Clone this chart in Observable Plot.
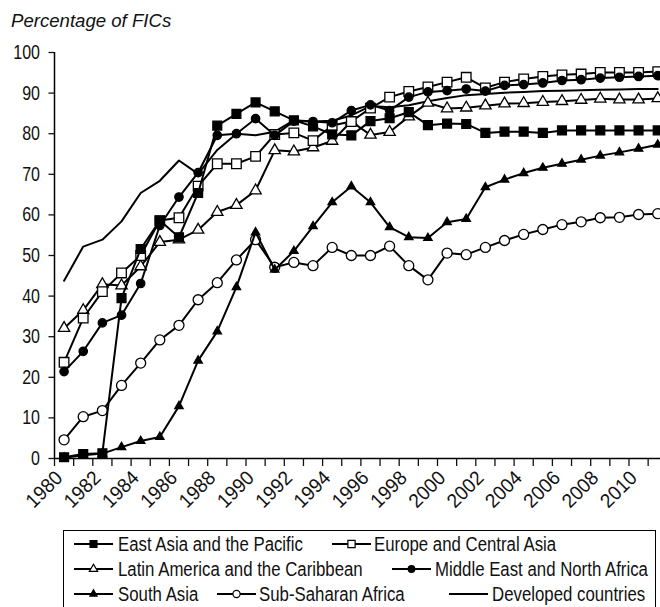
<!DOCTYPE html>
<html><head><meta charset="utf-8">
<script src="https://cdn.jsdelivr.net/npm/d3@7"></script>
<script src="https://cdn.jsdelivr.net/npm/@observablehq/plot@0.6"></script>
<style>
body{margin:0;background:#fff;font-family:"Liberation Sans",Arial,sans-serif;}
#wrap{position:relative;width:660px;height:607px;overflow:hidden;background:#fff;}
#chart{position:absolute;left:0;top:0;}
#title{position:absolute;left:11px;top:12px;font-style:italic;font-size:18.6px;line-height:1;color:#111;white-space:nowrap;}
#legendbox{position:absolute;left:63px;top:530px;width:593px;height:100px;border:1.5px solid #000;box-sizing:border-box;}
.sym{position:absolute;}
.ltext{position:absolute;font-size:20px;line-height:22px;height:22px;white-space:nowrap;color:#111;transform:scaleX(0.84);transform-origin:0 50%;}
</style></head><body>
<div id="wrap"><div id="chart"></div><div id="title">Percentage of FICs</div><div id="legendbox"></div><div id="legend"></div></div>
<script>
const years = d3.range(1980, 2012);
const seriesNames = ["East Asia and the Pacific","Europe and Central Asia","Latin America and the Caribbean","Middle East and North Africa","South Asia","Sub-Saharan Africa","Developed countries"];
const eastAsia = [0.3,1.1,1.3,39.5,51.6,58.6,54.5,65.4,82.0,84.9, 87.7,85.5,83.3,81.8,79.8,79.6,83.1,83.8,85.3,82.1, 82.5,82.4,80.2,80.5,80.5,80.2,80.8,80.8,80.8,80.8, 80.8,80.8];
const europe = [23.7,34.6,41.1,45.7,50.0,58.6,59.3,67.1,72.6,72.6, 74.4,79.8,80.2,78.3,82.0,83.0,86.3,89.0,90.4,91.5, 92.7,93.9,91.3,92.7,93.5,94.1,94.5,94.7,95.1,95.1, 95.1,95.3];
const latinAmerica = [32.1,36.5,42.9,42.6,47.3,53.3,53.9,56.3,60.7,62.4, 66.0,75.9,75.6,76.6,78.2,83.0,79.7,80.4,84.2,87.6, 86.2,86.4,86.9,87.4,87.5,87.8,88.0,88.3,88.6,88.4, 88.4,88.7];
const middleEast = [21.4,26.4,33.4,35.3,43.1,57.4,64.4,70.4,79.6,80.0, 83.7,79.6,83.1,83.0,82.7,85.7,87.1,85.7,89.0,90.3, 90.6,91.0,90.5,91.9,92.1,92.5,93.1,93.3,93.7,93.9, 94.1,94.3];
const southAsia = [0.2,0.8,1.2,2.8,4.3,5.3,12.9,24.1,31.3,42.2, 55.7,46.5,51.1,57.2,63.1,67.0,63.1,57.0,54.5,54.3, 58.2,59.0,66.8,68.7,70.3,71.6,72.6,73.6,74.6,75.4, 76.3,77.3];
const subSaharan = [4.6,10.3,11.8,18.0,23.5,29.2,32.8,39.1,43.3,48.9, 53.9,47.1,48.3,47.5,52.0,50.0,50.0,52.3,47.5,44.0, 50.6,50.2,52.0,53.7,55.2,56.4,57.6,58.3,59.3,59.4, 60.1,60.3];
const developed = [43.8,52.2,53.9,58.4,65.4,68.4,73.4,70.1,76.0,80.0, 79.6,80.5,83.3,83.0,83.2,84.5,86.8,86.5,87.0,88.0, 88.8,89.5,89.8,90.1,90.3,90.5,90.6,90.7,90.8,90.9, 91.0,91.0];
const yTicks = d3.range(0, 101, 10);
const xLabelYears = d3.range(1980, 2011, 2);
const xTickBounds = d3.range(1979.5, 2012, 1);

const FONT = '"Liberation Sans",Arial,sans-serif';
const valuesList = [eastAsia, europe, latinAmerica, middleEast, southAsia, subSaharan, developed];
const markers = [
  {symbol:"square", fill:"black", r:5.0, lr:3.9},
  {symbol:"square", fill:"white", r:5.4, lr:4.1},
  {symbol:"triangle", fill:"white", r:4.2, lr:3.1},
  {symbol:"circle", fill:"black", r:4.2, lr:3.3},
  {symbol:"triangle", fill:"black", r:3.1, lr:2.7},
  {symbol:"circle", fill:"white", r:5.0, lr:3.6},
  null
];
const series = seriesNames.map((name, k) => ({name, values: valuesList[k], marker: markers[k]}));
const drawOrder = [6, 5, 4, 2, 1, 3, 0];

const marks = [
  Plot.ruleY([0], {stroke: "black", strokeWidth: 1.5}),
  Plot.ruleX([1979.5], {y1: 0, y2: 100, stroke: "black", strokeWidth: 1.5}),
  Plot.axisY({ticks: yTicks, tickSize: 5.5, tickPadding: 9, fontSize: 20, label: null, strokeWidth: 1.3, className: "sx80"}),
  Plot.axisX({ticks: xTickBounds, tickSize: 8, tickFormat: () => "", label: null, strokeWidth: 1.3}),
  Plot.text(xLabelYears, {x: d => d, y: 0, text: d => String(d), rotate: -45, textAnchor: "end", dx: -5, dy: 16, fontSize: 20, className: "sx92"})
];
for (const k of drawOrder) {
  const s = series[k];
  const rows = s.values.map((v, i) => ({year: years[i], value: v}));
  marks.push(Plot.line(rows, {x: "year", y: "value", stroke: "black", strokeWidth: 2}));
  if (s.marker) {
    marks.push(Plot.dot(rows, {x: "year", y: "value", symbol: () => s.marker.symbol, r: s.marker.r, fill: s.marker.fill, stroke: "black", strokeWidth: 1.3}));
  }
}

const chart = Plot.plot({
  width: 660, height: 530,
  marginTop: 52, marginBottom: 72, marginLeft: 54, marginRight: 0,
  x: {domain: [1979.5, 2011.5], range: [54, 54 + 32 * 19.15]},
  y: {domain: [0, 100]},
  symbol: {type: "identity"},
  style: {fontFamily: FONT, fontSize: "20px", color: "#111", background: "transparent", overflow: "hidden"},
  marks
});
// condense glyphs horizontally (the reference uses a condensed face)
function condense(sel, s) {
  d3.select(chart).selectAll(sel).each(function () {
    const t = d3.select(this);
    const old = t.attr("transform") || "";
    t.attr("transform", `${old} scale(${s},1)`);
  });
}
condense(".sx80 text", 0.8);
condense(".sx92 text", 0.95);
document.getElementById("chart").appendChild(chart);

// legend (layout positions)
const legendLayout = [
  {sx: 74, tx: 118, cy: 544}, {sx: 332, tx: 374, cy: 544},
  {sx: 74, tx: 118, cy: 569}, {sx: 392, tx: 435, cy: 569},
  {sx: 74, tx: 118, cy: 594}, {sx: 217, tx: 259, cy: 594}, {sx: 449, tx: 492, cy: 594}
];
const legend = document.getElementById("legend");
series.forEach((s, k) => {
  const L = legendLayout[k];
  const sw = 39;
  let svg = `<svg class="sym" style="left:${L.sx}px;top:${L.cy - 7}px" width="${sw}" height="14" viewBox="0 0 ${sw} 14"><line x1="0" x2="${sw}" y1="7" y2="7" stroke="black" stroke-width="2"/>`;
  if (s.marker) {
    const m = s.marker;
    const sym = m.symbol === "square" ? d3.symbolSquare : m.symbol === "triangle" ? d3.symbolTriangle : d3.symbolCircle;
    const path = d3.symbol(sym, Math.PI * m.lr * m.lr)();
    svg += `<path transform="translate(${sw/2},7)" d="${path}" fill="${m.fill}" stroke="black" stroke-width="1.2"/>`;
  }
  svg += `</svg>`;
  legend.insertAdjacentHTML("beforeend", svg + `<div class="ltext" style="left:${L.tx}px;top:${L.cy - 11}px">${s.name}</div>`);
});
</script>
</body></html>
